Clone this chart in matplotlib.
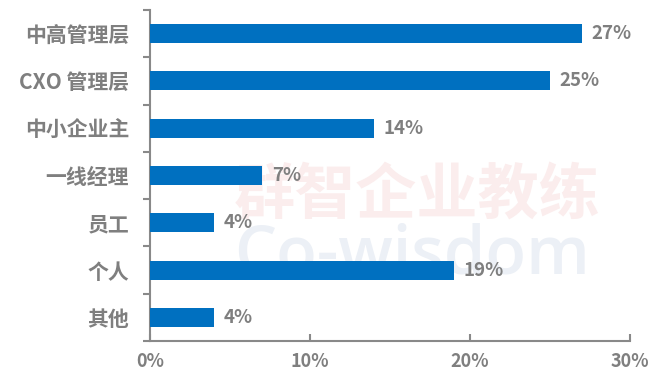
import matplotlib.pyplot as plt
import numpy as np

plt.rcParams['font.family'] = ['Noto Sans CJK SC', 'DejaVu Sans']

cats = ['中高管理层', 'CXO 管理层', '中小企业主', '一线经理', '员工', '个人', '其他']
vals = [27, 25, 14, 7, 4, 19, 4]

gray = '#7f7f7f'

fig = plt.figure(figsize=(6.64, 3.82), dpi=100)
ax = fig.add_axes([0.226, 0.107, 0.723, 0.867])

# watermark, behind the bars
ax.text(0.352, 0.484, '群智企业教练', color='#fbeded', fontsize=44, fontweight='bold',
        ha='left', va='center', transform=fig.transFigure, zorder=1)
ax.text(0.352, 0.33, 'Co-wisdom', color='#ecf0f6', fontsize=48, family='Open Sans',
        fontweight='semibold', ha='left', va='center', transform=fig.transFigure, zorder=1)

y = np.arange(len(cats))
ax.barh(y, vals, height=0.4, color='#0070c0', zorder=3)
for yi, v in zip(y, vals):
    ax.text(v + 0.6, yi, f'{v}%', va='center', ha='left', color=gray,
            fontsize=13.5, fontweight='bold', zorder=4)

ax.set_xlim(0, 30)
ax.set_ylim(6.5, -0.5)
ax.set_xticks([0, 10, 20, 30])
ax.set_xticklabels(['0%', '10%', '20%', '30%'])
ax.set_yticks(y)
ax.set_yticklabels(cats)
ax.set_yticks(np.arange(-0.5, 7, 1), minor=True)
ax.tick_params(axis='y', which='major', length=0, pad=15, labelsize=15, labelcolor=gray)
ax.tick_params(axis='y', which='minor', length=5, width=1.5, color='#898989', direction='out')
ax.tick_params(axis='x', length=5, width=1.5, color='#898989', direction='in', pad=8,
               labelsize=13, labelcolor=gray)
for lab in ax.get_xticklabels() + ax.get_yticklabels():
    lab.set_fontweight('bold')

for s in ['top', 'right']:
    ax.spines[s].set_visible(False)
for s in ['left', 'bottom']:
    ax.spines[s].set_color('#898989')
    ax.spines[s].set_linewidth(1.5)
ax.patch.set_alpha(0)

fig.savefig('out.png', dpi=100)
